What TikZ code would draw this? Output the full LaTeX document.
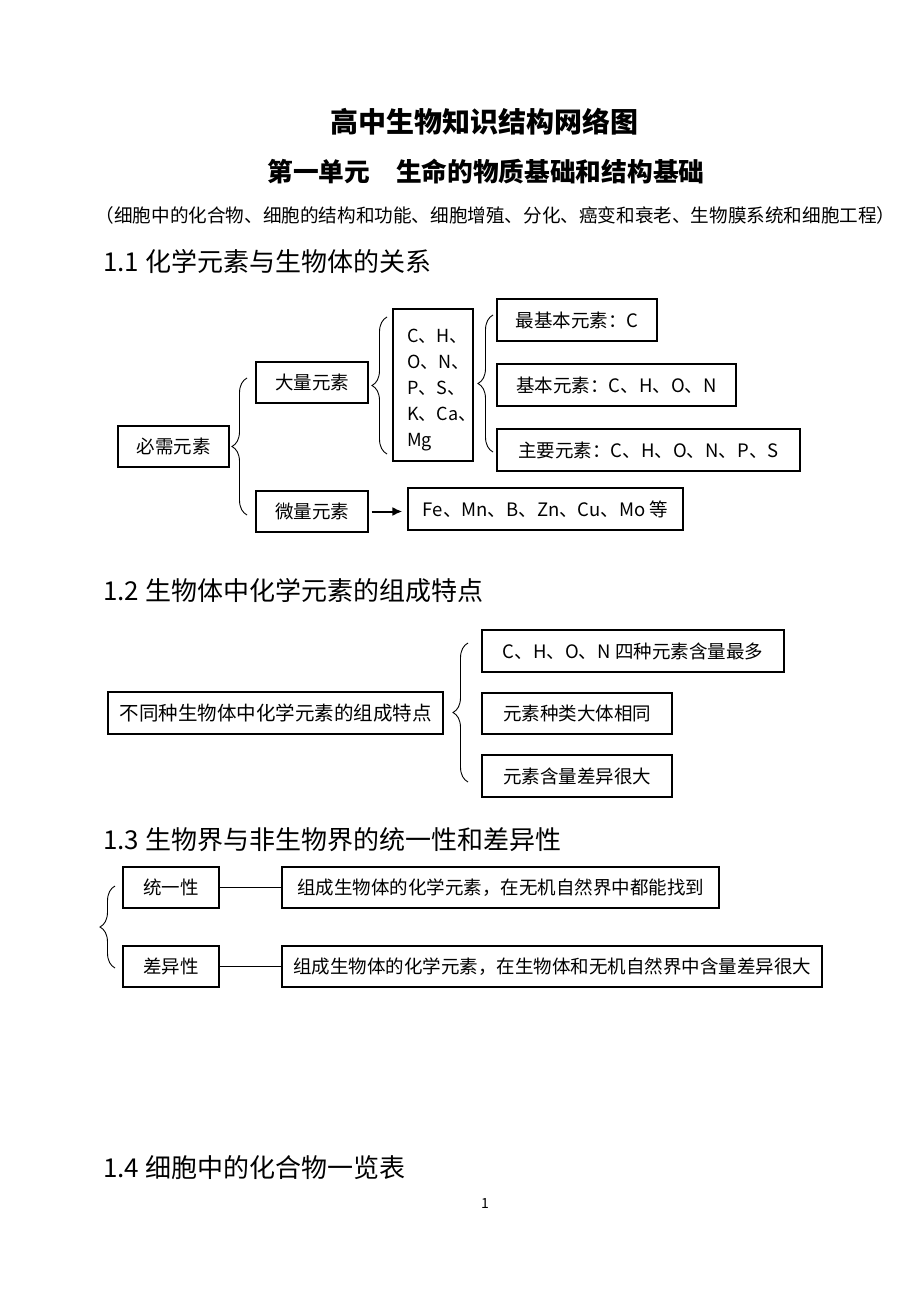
\documentclass[tikz,border=0pt]{standalone}
\usepackage{fontspec}
\setmainfont{Noto Sans CJK SC}
\usetikzlibrary{positioning}
\usetikzlibrary{decorations.pathreplacing}
\usetikzlibrary{arrows.meta}

\begin{document}
\begin{tikzpicture}[x=1pt,y=-1pt,
 box/.style={draw, line width=1.1pt, minimum height=41, inner sep=0pt, font=\fontsize{18.5}{22}\selectfont},
 curly/.style={decorate, decoration={brace, amplitude=15pt}, line width=0.9pt},
 heading/.style={anchor=west, inner sep=0pt, font=\fontsize{26}{30}\selectfont}]

\useasboundingbox (0,0) rectangle (920,1300);
\fill[white] (0,0) rectangle (920,1300);

% titles
\node[font=\bfseries\fontsize{28}{32}\selectfont] (title) at (484,122) {高中生物知识结构网络图};
\node[font=\bfseries\fontsize{25.7}{30}\selectfont] (unit) at (486,172) {第一单元　生命的物质基础和结构基础};
\node[font=\fontsize{18.6}{22}\selectfont] (topics) at (495.5,215) {（细胞中的化合物、细胞的结构和功能、细胞增殖、分化、癌变和衰老、生物膜系统和细胞工程）};

 \begin{scope}
{
\node[heading] (h11) at (103,262) {1.1 化学元素与生物体的关系};

\node[box, minimum width=111] (need) at (173.5,446.5) {必需元素};
\node[box, minimum width=112] (big) at (312,382.5) {大量元素};
\node[box, minimum width=112] (trace) at (312,511.5) {微量元素};

\node[box, minimum width=80, minimum height=152] (list) at (433,385) {};
\node[anchor=west, align=left, inner sep=0pt, font=\fontsize{18}{26}\selectfont] (listtxt) at (407,390) {C、H、\\O、N、\\P、S、\\K、Ca、\\Mg};

\node[box, minimum width=160, minimum height=42] (core) at (577,320) {最基本元素：C};
\node[box, minimum width=239, minimum height=42] (basic) at (616.5,385) {基本元素：C、H、O、N};
\node[box, minimum width=303, minimum height=42] (major) at (648.5,450) {主要元素：C、H、O、N、P、S};
\node[box, minimum width=275, minimum height=42] (micro) at (545.5,509) {Fe、Mn、B、Zn、Cu、Mo 等};

\draw[curly] (247,515) -- (247,378);
\draw[curly] (387,454) -- (387,317);
\draw[curly] (493,452) -- (493,315);

\draw[line width=2pt, -{Latex[length=10pt,width=9pt]}, shorten <=3pt, shorten >=5pt] (trace.east) -- (trace.east -| micro.west);
}
\end{scope}

 \begin{scope}
{
\node[heading] (h12) at (103,591) {1.2 生物体中化学元素的组成特点};

\node[box, minimum width=335, minimum height=42, font=\fontsize{19.5}{22}\selectfont] (feat) at (275.5,713) {不同种生物体中化学元素的组成特点};
\node[box, minimum width=302, minimum height=42] (most) at (633,651) {C、H、O、N 四种元素含量最多};
\node[box, minimum width=190] (same) at (577,713.5) {元素种类大体相同};
\node[box, minimum width=190, minimum height=42] (differ) at (577,776) {元素含量差异很大};

\draw[curly] (468,782) -- (468,643);
}
\end{scope}

 \begin{scope}
{
\node[heading] (h13) at (103,840) {1.3 生物界与非生物界的统一性和差异性};

\node[box, minimum width=96] (uni) at (171,887.5) {统一性};
\node[box, minimum width=96] (dif) at (171,966.5) {差异性};
\node[box, minimum width=437] (unitext) at (500.5,887.5) {组成生物体的化学元素，在无机自然界中都能找到};
\node[box, minimum width=540] (diftext) at (552,966.5) {组成生物体的化学元素，在生物体和无机自然界中含量差异很大};

\draw[line width=1.1pt] (uni) -- (unitext);
\draw[line width=1.1pt] (dif) -- (diftext);

\draw[curly] (115,968) -- (115,886);
}
\end{scope}

\node[heading] (h14) at (103,1168) {1.4 细胞中的化合物一览表};
\node[font=\fontsize{14}{16}\selectfont] (pageno) at (485,1203) {1};

\end{tikzpicture}
\end{document}
